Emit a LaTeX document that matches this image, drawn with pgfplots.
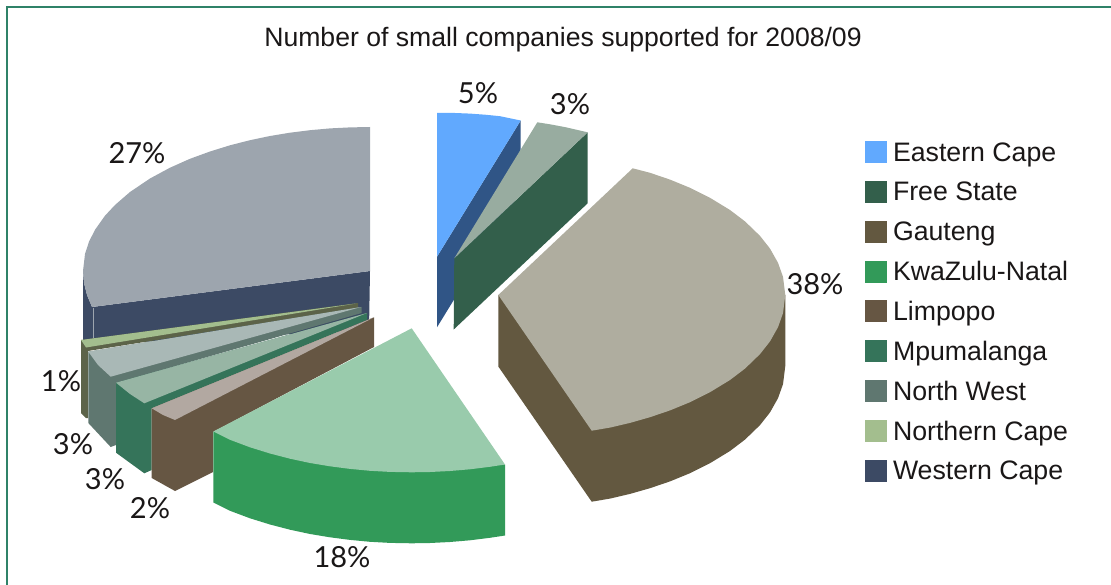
\documentclass[border=0pt]{standalone}
\usepackage{fontspec}
\usepackage{pgfplots}
\pgfplotsset{compat=1.18}
\setmainfont{Liberation Sans}
\newfontfamily\pctfont{Lato}

\definecolor{frameline}{HTML}{2F8268}
\definecolor{txt}{HTML}{1A1717}
% side colours (also the legend)
\definecolor{ecape}{HTML}{61A9FE}
\definecolor{fstate}{HTML}{335F4B}
\definecolor{gauteng}{HTML}{635840}
\definecolor{kzn}{HTML}{329A59}
\definecolor{limpopo}{HTML}{665643}
\definecolor{mpuma}{HTML}{35745A}
\definecolor{nwest}{HTML}{5F7770}
\definecolor{ncape}{HTML}{A3BE8E}
\definecolor{wcape}{HTML}{3C4A64}
% top faces and the rest
\definecolor{ecapeside}{HTML}{305586}
\definecolor{fstatetop}{HTML}{98ACA0}
\definecolor{gautengtop}{HTML}{AFAD9F}
\definecolor{kzntop}{HTML}{99CBAC}
\definecolor{limpopotop}{HTML}{B2A8A1}
\definecolor{mpumatop}{HTML}{97B5A4}
\definecolor{nwesttop}{HTML}{A9B8B6}
\definecolor{ncapeside}{HTML}{5C6349}
\definecolor{wcapetop}{HTML}{9DA5AE}

\tikzset{pct/.style={font=\pctfont\fontsize{29}{32}\selectfont, text=txt, inner sep=0pt}}
\pgfplotsset{slice/.style={draw=none, forget plot}}

\begin{document}
\begin{tikzpicture}
\begin{axis}[
    scale only axis,
    width=1111pt, height=585pt,
    xmin=0, xmax=1111, ymin=0, ymax=585,
    y dir=reverse,
    hide axis,
    legend cell align=left,
    legend style={
        at={(axis cs:865,141)}, anchor=north west, draw=none, fill=none,
        inner sep=0pt, outer sep=0pt,
        font=\fontsize{26.7}{30}\selectfont,
        text=txt,
        row sep=9.9pt,
        column sep=6pt,
        nodes={text height=20pt, text depth=9.9pt, inner sep=0pt, outer sep=0pt},
    },
    legend image code/.code={\fill[#1,draw=none] (0pt,-7pt) rectangle (22pt,15pt);},
]

% keeps the whole 1111x585 page in the picture
\path (axis cs:0,0) rectangle (axis cs:1111,585);

% frame
\addplot[forget plot, draw=frameline, line width=1.7pt] coordinates {(7,585) (7,7) (1111,7)};

% Western Cape
\addplot[slice, fill=wcape] coordinates {
    (370,271) (92,307) (87,295) (84,283) (83,271) (83,345) (369,330)
};
\addplot[slice, fill=wcapetop] coordinates {
    (370,127) (350,127.4) (330,128.4) (310,130.2) (290,132.7) (270,136) (250,140.2)
    (230,145.3) (210,151.5) (190,158.8) (170,167.7) (150,178.5) (130,192) (115,205)
    (105,215.7) (95,229.8) (89,241.7) (85,254) (83,271) (84,283) (87,295) (92,307) (370,271)
};
\addplot[forget plot, draw=wcapetop, line width=0.7pt] coordinates {(93,308) (93,340)};

% Northern Cape
\addplot[slice, fill=ncapeside] coordinates {
    (81,340) (81,413) (86,418) (88,418) (88,351) (358,308) (358,303)
};
\addplot[slice, fill=ncape] coordinates {(81,340) (356,303.5) (86,347.5)};

% North West
\addplot[slice, fill=nwest] coordinates {
    (88.3,351.7) (88.3,423) (110.7,447) (116,445) (116,383) (361.7,313) (361.7,307)
};
\addplot[slice, fill=nwesttop] coordinates {
    (88.3,351.7) (361,307) (110.7,376.7) (98,365)
};

% Mpumalanga
\addplot[slice, fill=mpuma] coordinates {
    (116,382.7) (116,452.7) (144.3,473.3) (151.7,470) (151.7,408.3) (367,320) (367,313)
};
\addplot[slice, fill=mpumatop] coordinates {
    (116,382.7) (367,313) (144.3,403.3) (130,394)
};

% Limpopo
\addplot[slice, fill=limpopo] coordinates {
    (151.7,408.3) (151.7,478) (175,491) (213,472) (213,432) (374,347) (374,317.3)
};
\addplot[slice, fill=limpopotop] coordinates {
    (151.7,408.3) (374,317.3) (175,420) (163,415)
};

% KwaZulu-Natal
\addplot[slice, fill=kzn] coordinates {
    (213.3,431.5) (213.3,502.5) (230,510.8) (250,518.3) (270,524.5) (290,529.7) (310,534)
    (330,537.3) (350,539.9) (370,541.8) (390,542.9) (411.7,543.3) (430,543) (450,542)
    (470,540.3) (490,537.8) (505,535.5) (505,464.5)
};
\addplot[slice, fill=kzntop] coordinates {
    (213.3,431.5) (411.7,328.3) (505,464.5) (490,466.8) (470,469.3) (450,471) (430,472)
    (411.7,472.3) (390,471.9) (370,470.8) (350,468.9) (330,466.3) (310,463) (290,458.7)
    (270,453.5) (250,447.3) (230,439.8)
};

% Gauteng
\addplot[slice, fill=gauteng] coordinates {
    (498.3,295) (498.3,366.5) (591.7,501.7) (610,498.6) (630,493.9) (650,488.2) (670,481.4)
    (690,473.2) (710,463.2) (730,451) (745,439.6) (760,425.1) (770,412.4) (778,398.2)
    (783,384.2) (785.3,366) (785.3,295)
};
\addplot[slice, fill=gautengtop] coordinates {
    (632.7,168.3) (650,172.8) (670,179.6) (690,187.8) (710,197.8) (730,210) (745,221.4)
    (760,235.9) (770,248.6) (778,262.8) (783,276.8) (785.3,295) (783,313.2) (778,327.2)
    (770,341.4) (760,354.1) (745,368.6) (730,380) (710,392.2) (690,402.2) (670,410.4)
    (650,417.2) (630,422.9) (610,427.6) (591.7,430.7) (498.3,295)
};

% Eastern Cape
\addplot[slice, fill=ecapeside] coordinates {
    (437,256.7) (437,327.3) (520.7,191) (520.7,120.5)
};
\addplot[slice, fill=ecape] coordinates {
    (437,113) (455,113) (470,113.6) (485,114.7) (500,116.2) (520.7,120.5) (437,256.7)
};

% Free State
\addplot[slice, fill=fstate] coordinates {
    (454.3,258.3) (453.7,329.5) (587.7,203.3) (587.7,132.3)
};
\addplot[slice, fill=fstatetop] coordinates {
    (537.3,122.3) (550,124.3) (565,127.1) (575,129.4) (587.7,132.3) (454.3,258.3)
};

% legend swatches
\addlegendimage{fill=ecape}
\addlegendimage{fill=fstate}
\addlegendimage{fill=gauteng}
\addlegendimage{fill=kzn}
\addlegendimage{fill=limpopo}
\addlegendimage{fill=mpuma}
\addlegendimage{fill=nwest}
\addlegendimage{fill=ncape}
\addlegendimage{fill=wcape}
\legend{Eastern Cape, Free State, Gauteng, KwaZulu-Natal, Limpopo, Mpumalanga, North West, Northern Cape, Western Cape}

\node[font=\fontsize{26.6}{30}\selectfont, text=txt, inner sep=0pt] at (axis cs:563,40) {Number of small companies supported for 2008/09};

\node[pct] at (axis cs:478,93) {5\%};
\node[pct] at (axis cs:570,104) {3\%};
\node[pct] at (axis cs:815,284) {38\%};
\node[pct] at (axis cs:342,557) {18\%};
\node[pct] at (axis cs:150,508) {2\%};
\node[pct] at (axis cs:105,479) {3\%};
\node[pct] at (axis cs:73,444) {3\%};
\node[pct] at (axis cs:61,381) {1\%};
\node[pct] at (axis cs:137,153) {27\%};

\end{axis}
\end{tikzpicture}
\end{document}
